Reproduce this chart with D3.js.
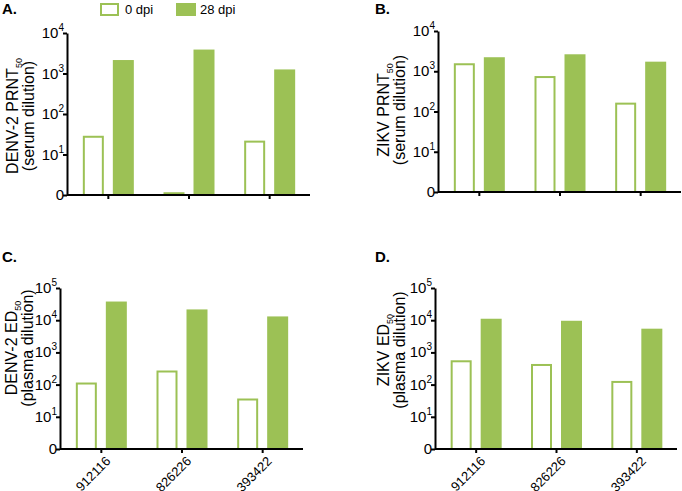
<!DOCTYPE html>
<html>
<head>
<meta charset="utf-8">
<script src="https://cdn.jsdelivr.net/npm/d3@7"></script>
<style>
  body { margin: 0; background: #fff; }
  svg { display: block; font-family: "Liberation Sans", Arial, sans-serif; }
</style>
</head>
<body>
<div id="chart"></div>
<script>
"use strict";
// donors (x categories) and the two timepoints
const samples = ["912116", "826226", "393422"];
const timepoints = ["0 dpi", "28 dpi"];

// titers (1 is drawn as "0")
const denvPrnt0 = [29, 1.17, 22];
const denvPrnt28 = [2150, 3900, 1260];
const zikvPrnt0 = [1580, 760, 166];
const zikvPrnt28 = [2230, 2640, 1730];
const denvEd0 = [116, 274, 37];
const denvEd28 = [38000, 21600, 13100];
const zikvEd0 = [569, 437, 130];
const zikvEd28 = [11100, 9600, 5450];

const ticks4 = [1, 10, 100, 1000, 10000];
const ticks5 = [1, 10, 100, 1000, 10000, 100000];

const green = "#9cc155";
const width = 682, height = 491;

const svg = d3.select("#chart").append("svg")
    .attr("width", width)
    .attr("height", height)
    .attr("viewBox", [0, 0, width, height]);

// legend
const legend = svg.append("g");
legend.append("rect").attr("x", 101).attr("y", 4).attr("width", 17).attr("height", 11)
    .attr("fill", "#fff").attr("stroke", green).attr("stroke-width", 2);
legend.append("text").attr("x", 125).attr("y", 14).style("font-size", "13px").text(timepoints[0]);
legend.append("rect").attr("x", 176).attr("y", 3).attr("width", 20).attr("height", 13)
    .attr("fill", green);
legend.append("text").attr("x", 200).attr("y", 14).style("font-size", "13px").text(timepoints[1]);

function drawPanel(p) {
    const g = svg.append("g");
    const top = p.ticks[p.ticks.length - 1];

    const y = d3.scaleLog()
        .domain([1, top])
        .range([p.bottom, p.top]);

    const x = d3.scaleBand()
        .domain(samples)
        .range([p.left + 1, p.right])
        .paddingInner(0).paddingOuter(0);

    const xSub = d3.scaleBand()
        .domain(timepoints)
        .range([-25.5, 25.5])
        .paddingInner(0.3).paddingOuter(0);

    // panel letter
    g.append("text")
        .attr("x", p.letterX).attr("y", p.letterY)
        .style("font-size", "15px").style("font-weight", "bold")
        .text(p.letter);

    // bars
    const rows = samples.map((s, i) => ({s, v0: p.d0[i], v28: p.d28[i]}));
    const grp = g.selectAll(".grp").data(rows).join("g")
        .attr("transform", d => `translate(${x(d.s) + x.bandwidth() / 2},0)`);

    grp.append("rect")
        .attr("x", xSub(timepoints[0]) + 1)
        .attr("width", xSub.bandwidth() - 2)
        .attr("y", d => y(d.v0) + 1)
        .attr("height", d => Math.max(0, p.bottom - y(d.v0) - 1))
        .attr("fill", "#fff")
        .attr("stroke", green)
        .attr("stroke-width", 2);

    grp.append("rect")
        .attr("x", xSub(timepoints[1]))
        .attr("width", xSub.bandwidth())
        .attr("y", d => y(d.v28))
        .attr("height", d => p.bottom - y(d.v28))
        .attr("fill", green);

    // y axis
    g.append("g")
        .attr("transform", `translate(${p.left},0)`)
        .call(d3.axisLeft(y).tickValues(p.ticks).tickFormat("").tickSize(4).tickSizeOuter(0))
        .call(a => a.selectAll("line,path").attr("stroke", "#000").attr("stroke-width", 2));

    const lab = g.selectAll(".ylab").data(p.ticks).join("text")
        .attr("x", p.left - 3)
        .attr("y", d => y(d) + 5)
        .attr("text-anchor", "end")
        .style("font-size", "15px");
    lab.each(function(d) {
        const t = d3.select(this);
        if (d === 1) { t.text("0"); return; }
        t.append("tspan").text("10");
        t.append("tspan").attr("dy", -7).style("font-size", "10px").text(Math.round(Math.log10(d)));
    });

    // x axis
    g.append("g")
        .attr("transform", `translate(0,${p.bottom})`)
        .call(d3.axisBottom(x).tickFormat("").tickSize(4).tickSizeOuter(0))
        .call(a => a.select(".domain").attr("d", `M${p.left},0H${p.right}`))
        .call(a => a.selectAll("line,path").attr("stroke", "#000").attr("stroke-width", 2));

    if (p.xLabels) {
        g.selectAll(".xlab").data(samples).join("text")
            .attr("transform", d => `translate(${x(d) + x.bandwidth() / 2 + 10},${p.bottom + 13}) rotate(-45)`)
            .attr("text-anchor", "end")
            .style("font-size", "13px")
            .text(d => d);
    }

    // y title, two lines
    const title = g.append("text")
        .attr("transform", `translate(${p.titleX},${p.titleY}) rotate(-90)`)
        .attr("text-anchor", "middle")
        .style("font-size", "16px");
    title.append("tspan").text(p.title[0]);
    title.append("tspan").attr("dy", 4).style("font-size", "9px").text("50");
    g.append("text")
        .attr("transform", `translate(${p.titleX + 16},${p.titleY}) rotate(-90)`)
        .attr("text-anchor", "middle")
        .style("font-size", "16px")
        .text(p.title[1]);
}

drawPanel({letter: "A.", letterX: 2, letterY: 14, left: 67, right: 310, top: 33, bottom: 195,
    ticks: ticks4, d0: denvPrnt0, d28: denvPrnt28, title: ["DENV-2 PRNT", "(serum dilution)"],
    titleX: 18, titleY: 116, xLabels: false});
drawPanel({letter: "B.", letterX: 375, letterY: 14, left: 438, right: 681, top: 31, bottom: 192,
    ticks: ticks4, d0: zikvPrnt0, d28: zikvPrnt28, title: ["ZIKV PRNT", "(serum dilution)"],
    titleX: 389, titleY: 110, xLabels: false});
drawPanel({letter: "C.", letterX: 2, letterY: 262, left: 60, right: 303, top: 288, bottom: 449,
    ticks: ticks5, d0: denvEd0, d28: denvEd28, title: ["DENV-2 ED", "(plasma dilution)"],
    titleX: 17, titleY: 348, xLabels: true});
drawPanel({letter: "D.", letterX: 375, letterY: 262, left: 435, right: 677, top: 288, bottom: 449,
    ticks: ticks5, d0: zikvEd0, d28: zikvEd28, title: ["ZIKV ED", "(plasma dilution)"],
    titleX: 389, titleY: 350, xLabels: true});
</script>
</body>
</html>
